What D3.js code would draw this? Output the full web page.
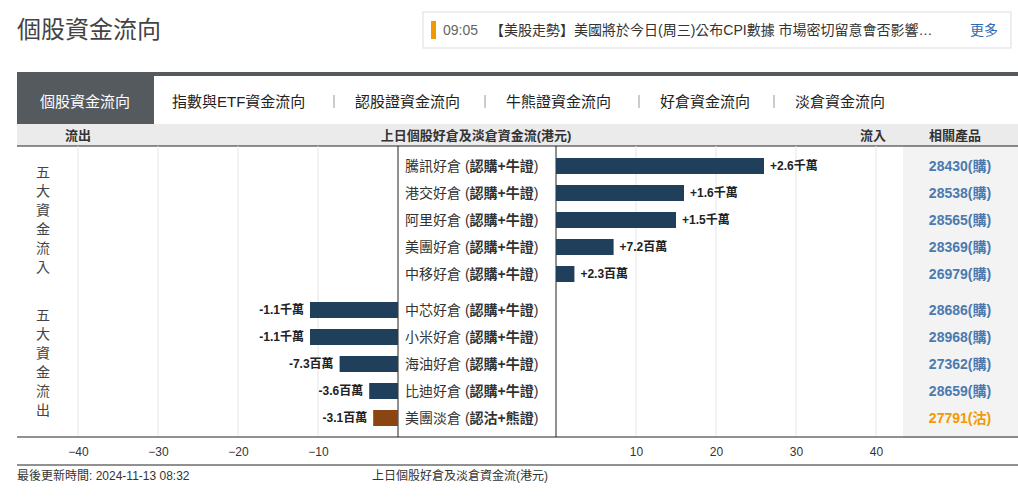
<!DOCTYPE html>
<html><head><meta charset="utf-8">
<script src="https://cdn.jsdelivr.net/npm/d3@7"></script>
<style>body{margin:0;background:#fff;font-family:"Liberation Sans","Noto Sans CJK TC",sans-serif}</style>
</head><body><div id="chart"></div>
<script>
const inNames = ['騰訊好倉 (認購+牛證)','港交好倉 (認購+牛證)','阿里好倉 (認購+牛證)','美團好倉 (認購+牛證)','中移好倉 (認購+牛證)'];
const inValues = [26, 16, 15, 7.2, 2.3];
const inLabels = ['+2.6千萬','+1.6千萬','+1.5千萬','+7.2百萬','+2.3百萬'];
const inCodes = ['28430(購)','28538(購)','28565(購)','28369(購)','26979(購)'];
const outNames = ['中芯好倉 (認購+牛證)','小米好倉 (認購+牛證)','海油好倉 (認購+牛證)','比迪好倉 (認購+牛證)','美團淡倉 (認沽+熊證)'];
const outValues = [-11, -11, -7.3, -3.6, -3.1];
const outLabels = ['-1.1千萬','-1.1千萬','-7.3百萬','-3.6百萬','-3.1百萬'];
const outCodes = ['28686(購)','28968(購)','27362(購)','28659(購)','27791(沽)'];
const leftTicks = [-40, -30, -20, -10];
const rightTicks = [10, 20, 30, 40];
const tabs = ['指數與ETF資金流向','認股證資金流向','牛熊證資金流向','好倉資金流向','淡倉資金流向'];

const svg = d3.select('#chart').append('svg').attr('width', 1018).attr('height', 498);

// title and news bar
svg.append('text').attr('x', 17).attr('y', 38).attr('font-size', 24).attr('fill', '#444').text('個股資金流向');
svg.append('rect').attr('x', 423).attr('y', 12).attr('width', 588).attr('height', 36).attr('fill', 'none').attr('stroke', '#ddd');
svg.append('rect').attr('x', 431).attr('y', 21).attr('width', 5).attr('height', 18).attr('fill', '#f39800');
svg.append('text').attr('x', 443).attr('y', 35).attr('font-size', 14).attr('fill', '#666').text('09:05');
svg.append('text').attr('x', 490).attr('y', 35).attr('font-size', 14).attr('fill', '#333')
  .text('【美股走勢】美國將於今日(周三)公布CPI數據 市場密切留意會否影響…');
svg.append('text').attr('x', 970).attr('y', 35).attr('font-size', 14).attr('fill', '#2a6db5').text('更多');

// tab bar
svg.append('rect').attr('x', 17).attr('y', 72).attr('width', 1001).attr('height', 4).attr('fill', '#555a5e');
svg.append('rect').attr('x', 17).attr('y', 76).attr('width', 137).attr('height', 48).attr('fill', '#555a5e');
svg.append('text').attr('x', 85).attr('y', 107).attr('text-anchor', 'middle').attr('font-size', 15).attr('fill', '#fff').text('個股資金流向');
const tabX = [172, 355, 506, 660, 795];
tabs.forEach((t, i) => {
  svg.append('text').attr('x', tabX[i]).attr('y', 107).attr('font-size', 15).attr('fill', '#222').text(t);
  if (i < tabs.length - 1) {
    const sx = tabX[i + 1] - 21;
    svg.append('line').attr('x1', sx).attr('x2', sx).attr('y1', 95).attr('y2', 108).attr('stroke', '#999');
  }
});

// header
svg.append('rect').attr('x', 17).attr('y', 124).attr('width', 1001).attr('height', 22).attr('fill', '#ebebeb');
svg.append('rect').attr('x', 903).attr('y', 146).attr('width', 115).attr('height', 292).attr('fill', '#f3f3f3');
svg.append('line').attr('x1', 17).attr('x2', 1018).attr('y1', 146).attr('y2', 146).attr('stroke', '#222');
const hdr = (x, t, a) => svg.append('text').attr('x', x).attr('y', 140).attr('text-anchor', a || 'middle')
  .attr('font-size', 13).attr('font-weight', 'bold').attr('fill', '#333').text(t);
hdr(78, '流出'); hdr(476, '上日個股好倉及淡倉資金流(港元)'); hdr(873, '流入'); hdr(955, '相關產品');

// scales
const xL = d3.scaleLinear().domain([-40, 0]).range([78, 398]);
const xR = d3.scaleLinear().domain([0, 40]).range([556, 876]);
const rowsIn = [166, 193, 220, 247, 274];
const rowsOut = [310, 337, 364, 391, 418];
const bh = 16;

// grid
const grid = svg.append('g').attr('stroke', '#e6e6e6');
leftTicks.forEach(t => grid.append('line').attr('x1', xL(t)).attr('x2', xL(t)).attr('y1', 146).attr('y2', 437));
rightTicks.forEach(t => grid.append('line').attr('x1', xR(t)).attr('x2', xR(t)).attr('y1', 146).attr('y2', 437));
svg.append('line').attr('x1', 398).attr('x2', 398).attr('y1', 146).attr('y2', 437).attr('stroke', '#222');
svg.append('line').attr('x1', 556).attr('x2', 556).attr('y1', 146).attr('y2', 437).attr('stroke', '#222');
svg.append('line').attr('x1', 17).attr('x2', 1018).attr('y1', 437).attr('y2', 437).attr('stroke', '#222');
svg.append('line').attr('x1', 17).attr('x2', 1018).attr('y1', 465).attr('y2', 465).attr('stroke', '#222');

// vertical side labels
[['五','大','資','金','流','入'], ['五','大','資','金','流','出']].forEach((chars, k) => {
  chars.forEach((c, i) => svg.append('text').attr('x', 43).attr('y', (k ? 320 : 177) + i * 19)
    .attr('text-anchor', 'middle').attr('font-size', 14).attr('fill', '#444').text(c));
});

const nameText = (y, s) => {
  const m = s.match(/^(.*\()(.*)(\))$/);
  const t = svg.append('text').attr('x', 405).attr('y', y + 5).attr('font-size', 14).attr('fill', '#333');
  t.append('tspan').text(m[1]);
  t.append('tspan').attr('font-weight', 'bold').text(m[2]);
  t.append('tspan').text(m[3]);
};

// inflow bars
inValues.forEach((v, i) => {
  const y = rowsIn[i];
  svg.append('rect').attr('x', xR(0)).attr('y', y - bh / 2).attr('width', xR(v) - xR(0)).attr('height', bh).attr('fill', '#1f3f5b');
  svg.append('text').attr('x', xR(v) + 6).attr('y', y + 4).attr('font-size', 12).attr('font-weight', 'bold').attr('fill', '#222').text(inLabels[i]);
  nameText(y, inNames[i]);
  svg.append('text').attr('x', 960).attr('y', y + 5).attr('text-anchor', 'middle').attr('font-size', 14)
    .attr('font-weight', 'bold').attr('fill', '#4a7ab0').text(inCodes[i]);
});
// outflow bars
outValues.forEach((v, i) => {
  const y = rowsOut[i];
  const last = i === outValues.length - 1;
  svg.append('rect').attr('x', xL(v)).attr('y', y - bh / 2).attr('width', xL(0) - xL(v)).attr('height', bh)
    .attr('fill', last ? '#8b4513' : '#1f3f5b');
  svg.append('text').attr('x', xL(v) - 6).attr('y', y + 4).attr('text-anchor', 'end').attr('font-size', 12)
    .attr('font-weight', 'bold').attr('fill', '#222').text(outLabels[i]);
  nameText(y, outNames[i]);
  svg.append('text').attr('x', 960).attr('y', y + 5).attr('text-anchor', 'middle').attr('font-size', 14)
    .attr('font-weight', 'bold').attr('fill', last ? '#f39800' : '#4a7ab0').text(outCodes[i]);
});

// axes
const axL = svg.append('g').attr('transform', 'translate(0,437)')
  .call(d3.axisBottom(xL).tickValues(leftTicks).tickSize(0).tickPadding(10));
const axR = svg.append('g').attr('transform', 'translate(0,437)')
  .call(d3.axisBottom(xR).tickValues(rightTicks).tickSize(0).tickPadding(10));
[axL, axR].forEach(a => {
  a.select('.domain').remove();
  a.selectAll('text').attr('font-size', 12).attr('fill', '#333').attr('font-family', 'Liberation Sans, Arial, sans-serif');
});

svg.append('text').attr('x', 17).attr('y', 480).attr('font-size', 12).attr('fill', '#333').text('最後更新時間: 2024-11-13 08:32');
svg.append('text').attr('x', 372).attr('y', 480).attr('font-size', 12).attr('fill', '#333').text('上日個股好倉及淡倉資金流(港元)');
</script></body></html>
